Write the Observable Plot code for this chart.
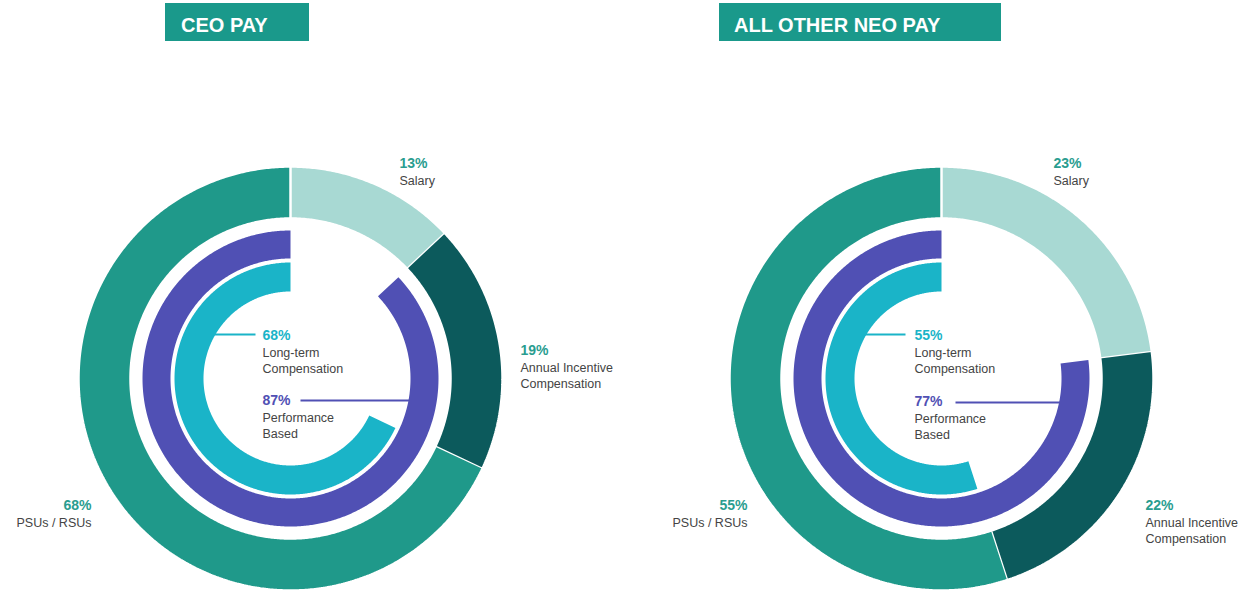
<!DOCTYPE html>
<html>
<head>
<meta charset="utf-8">
<script src="https://cdn.jsdelivr.net/npm/d3@7"></script>
<script src="https://cdn.jsdelivr.net/npm/@observablehq/plot@0.6"></script>
<style>
  html, body { margin: 0; padding: 0; background: #ffffff; }
  #wrap { position: relative; width: 1255px; height: 592px; overflow: hidden; font-family: "Liberation Sans", Arial, sans-serif; }
  .hdr { position: absolute; top: 3px; height: 38px; background: #1a998b; color: #ffffff; font-weight: 700; font-size: 20px; line-height: 44px; box-sizing: border-box; white-space: nowrap; }
  .panel { position: absolute; top: 44px; }
</style>
</head>
<body>
<div id="wrap"></div>
<script>
// ---------------- data ----------------
const chartTitles = ["CEO PAY", "ALL OTHER NEO PAY"];
const payCategories = ["Salary", "Annual Incentive\nCompensation", "PSUs / RSUs"];
const ceoPayMix = [13, 19, 68];
const neoPayMix = [23, 22, 55];
const innerCategories = ["Long-term\nCompensation", "Performance\nBased"];
const ceoInnerMix = [68, 87];   // long-term, performance based
const neoInnerMix = [55, 77];

// ---------------- styling / layout (not data) ----------------
const outerColors = ["#a8d9d3", "#0c5a5c", "#1f998a"];
const cyan = "#1ab4c8", purple = "#5050b4";
const pctTeal = "#2a9d90", textGray = "#444444";
const fontFamily = "'Liberation Sans', Arial, sans-serif";
const ringOuter = [160, 212], ringPerf = [120, 148], ringLong = [87, 116];

const panels = [
  { left: 0, width: 627, cx: 290, hdrLeft: 165, hdrWidth: 144, hdrPad: 16,
    labelPos: [ {x: 109, y: -215, anchor: "start"}, {x: 230, y: -28, anchor: "start"}, {x: -199, y: 127, anchor: "end"} ],
    center: {x: -28, longY: -43, perfY: 22},
    longLine: [-95, -35, -44], perfLine: [10, 122, 22] },
  { left: 627, width: 628, cx: 941, hdrLeft: 719, hdrWidth: 282, hdrPad: 15,
    labelPos: [ {x: 112, y: -215, anchor: "start"}, {x: 204, y: 127, anchor: "start"}, {x: -194, y: 127, anchor: "end"} ],
    center: {x: -27, longY: -43, perfY: 23},
    longLine: [-92, -36, -44], perfLine: [14, 124, 24] }
];
const cy = 378, topOffset = 44, svgHeight = 548;

function arcPoints(f0, f1, r0, r1) {
  const pts = [];
  const n = Math.max(4, Math.ceil((f1 - f0) * 720));
  for (let i = 0; i <= n; i++) {
    const a = 2 * Math.PI * (f0 + (f1 - f0) * i / n);
    pts.push({x: r1 * Math.sin(a), y: -r1 * Math.cos(a)});
  }
  for (let i = n; i >= 0; i--) {
    const a = 2 * Math.PI * (f0 + (f1 - f0) * i / n);
    pts.push({x: r0 * Math.sin(a), y: -r0 * Math.cos(a)});
  }
  return pts;
}

const wrap = document.getElementById("wrap");
const mixes = [ceoPayMix, neoPayMix];
const inners = [ceoInnerMix, neoInnerMix];

panels.forEach((p, k) => {
  // header
  const h = document.createElement("div");
  h.className = "hdr";
  h.style.left = p.hdrLeft + "px";
  h.style.width = p.hdrWidth + "px";
  h.style.paddingLeft = p.hdrPad + "px";
  h.textContent = chartTitles[k];
  wrap.appendChild(h);

  const mix = mixes[k];
  const total = d3.sum(mix);
  const cum = d3.cumsum(mix);
  const marks = [];

  // outer ring: clockwise from 12 o'clock
  mix.forEach((v, i) => {
    const f0 = (cum[i] - v) / total, f1 = cum[i] / total;
    marks.push(Plot.line(arcPoints(f0, f1, ringOuter[0], ringOuter[1]),
      {x: "x", y: "y", fill: outerColors[i], stroke: "#ffffff", strokeWidth: 2.5, strokeLinejoin: "miter"}));
  });

  // inner rings: counter-clockwise from 12 o'clock
  const [longTerm, perf] = inners[k];
  marks.push(Plot.line(arcPoints(1 - perf / 100, 1, ringPerf[0], ringPerf[1]),
    {x: "x", y: "y", fill: purple, stroke: "none"}));
  marks.push(Plot.line(arcPoints(1 - longTerm / 100, 1, ringLong[0], ringLong[1]),
    {x: "x", y: "y", fill: cyan, stroke: "none"}));

  // leader lines
  marks.push(Plot.link([longTerm], {x1: () => p.longLine[0], x2: () => p.longLine[1], y1: () => p.longLine[2], y2: () => p.longLine[2], stroke: cyan, strokeWidth: 2}));
  marks.push(Plot.link([perf], {x1: () => p.perfLine[0], x2: () => p.perfLine[1], y1: () => p.perfLine[2], y2: () => p.perfLine[2], stroke: purple, strokeWidth: 2}));

  // outer labels
  const outerLabels = mix.map((v, i) => ({pct: v + "%", name: payCategories[i], ...p.labelPos[i]}));
  for (const anchor of ["start", "end"]) {
    const subset = outerLabels.filter(d => d.anchor === anchor);
    marks.push(Plot.text(subset, {x: "x", y: "y", text: "pct", textAnchor: anchor, fill: pctTeal, fontSize: 14, fontWeight: 700, fontFamily}));
    marks.push(Plot.text(subset, {x: "x", y: d => d.y + 10, text: "name", lineAnchor: "top", lineHeight: 1.3, textAnchor: anchor, fill: textGray, fontSize: 12.5, fontFamily}));
  }

  // center labels
  const centerLabels = [
    {pct: longTerm + "%", name: innerCategories[0], y: p.center.longY, color: cyan},
    {pct: perf + "%", name: innerCategories[1], y: p.center.perfY, color: purple}
  ];
  marks.push(Plot.text(centerLabels, {x: () => p.center.x, y: "y", text: "pct", textAnchor: "start", fill: d => d.color, fontSize: 14, fontWeight: 700, fontFamily}));
  marks.push(Plot.text(centerLabels, {x: () => p.center.x, y: d => d.y + 10, text: "name", lineAnchor: "top", lineHeight: 1.3, textAnchor: "start", fill: textGray, fontSize: 12.5, fontFamily}));

  const svg = Plot.plot({
    width: p.width, height: svgHeight, margin: 0,
    x: {domain: [-p.cx + p.left, p.left + p.width - p.cx], range: [0, p.width], axis: null},
    y: {domain: [-(cy - topOffset), svgHeight - (cy - topOffset)], range: [0, svgHeight], axis: null},
    color: {type: "identity"},
    style: {background: "transparent", overflow: "visible"},
    marks
  });
  const holder = document.createElement("div");
  holder.className = "panel";
  holder.style.left = p.left + "px";
  holder.appendChild(svg);
  wrap.appendChild(holder);
});
</script>
</body>
</html>
